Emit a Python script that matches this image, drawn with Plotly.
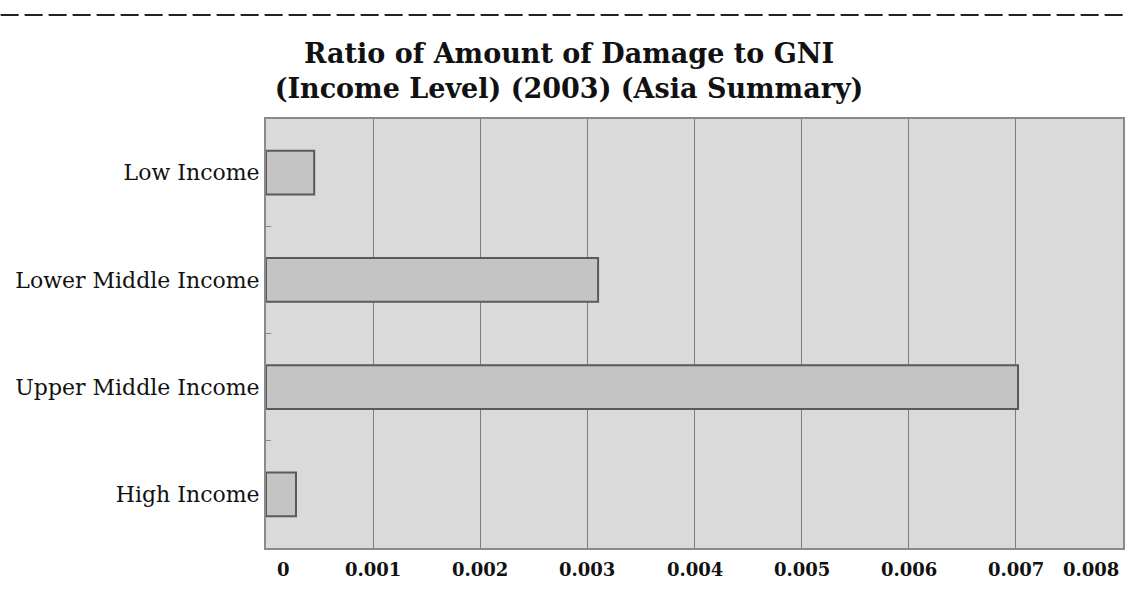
import plotly.graph_objects as go

categories = ["Low Income", "Lower Middle Income", "Upper Middle Income", "High Income"]
values = [0.00045, 0.0031, 0.00702, 0.00028]
x_ticks = [0, 0.001, 0.002, 0.003, 0.004, 0.005, 0.006, 0.007, 0.008]
x_tick_labels = ["0", "0.001", "0.002", "0.003", "0.004", "0.005", "0.006", "0.007", "0.008"]
title_text = "Ratio of Amount of Damage to GNI<br>(Income Level) (2003) (Asia Summary)"

W, H = 1130, 590
L, R, T, B = 266, 5, 119, 42
pw, ph = W - L - R, H - T - B

fig = go.Figure()
fig.add_trace(go.Bar(
    x=values, y=categories, orientation="h",
    width=0.41,
    marker=dict(color="#c4c4c4", line=dict(color="#5a5a5a", width=2)),
    hoverinfo="x+y",
))

shifts = {0: 17, len(x_ticks) - 1: -32}
annotations = []
for i, (v, t) in enumerate(zip(x_ticks, x_tick_labels)):
    annotations.append(dict(
        x=v, y=0, xref="x", yref="paper", text=t, showarrow=False,
        yanchor="middle", yshift=-21, xshift=shifts.get(i, 0),
        font=dict(family="DejaVu Serif", size=18, color="#111111", weight="bold"),
    ))

fig.update_layout(
    width=W, height=H,
    margin=dict(l=L, r=R, t=T, b=B),
    paper_bgcolor="white",
    plot_bgcolor="#dadada",
    showlegend=False,
    title=dict(
        text=title_text, x=569 / W, xanchor="center", xref="container",
        y=1 - 63 / H, yanchor="top", yref="container",
        font=dict(family="DejaVu Serif", size=27, color="#111111", weight="bold"),
    ),
    xaxis=dict(
        range=[0, 0.008], tickvals=x_ticks, showticklabels=False,
        showgrid=True, gridcolor="#7d7d7d", gridwidth=1,
        zeroline=False, showline=True, linecolor="#8a8a8a", linewidth=2,
        mirror=True, ticks="",
    ),
    yaxis=dict(
        categoryorder="array", categoryarray=categories[::-1],
        showgrid=False, zeroline=False,
        showline=True, linecolor="#8a8a8a", linewidth=2, mirror=True,
        ticks="inside", tickson="boundaries", ticklen=5, tickcolor="#8a8a8a",
        tickfont=dict(family="DejaVu Serif", size=22, color="#111111"),
        ticklabelstandoff=0,
    ),
    annotations=annotations,
    shapes=[dict(
        type="line", xref="paper", yref="paper",
        x0=-L / pw, x1=(W - L) / pw,
        y0=(H - B - 15) / ph, y1=(H - B - 15) / ph,
        line=dict(color="#222222", width=2, dash="18px,6px"),
    )],
)

fig.write_html(
    "out.html",
    config={"displayModeBar": False},
    post_script="document.body.style.margin='0';document.body.style.padding='0';document.body.style.overflow='hidden';",
)
